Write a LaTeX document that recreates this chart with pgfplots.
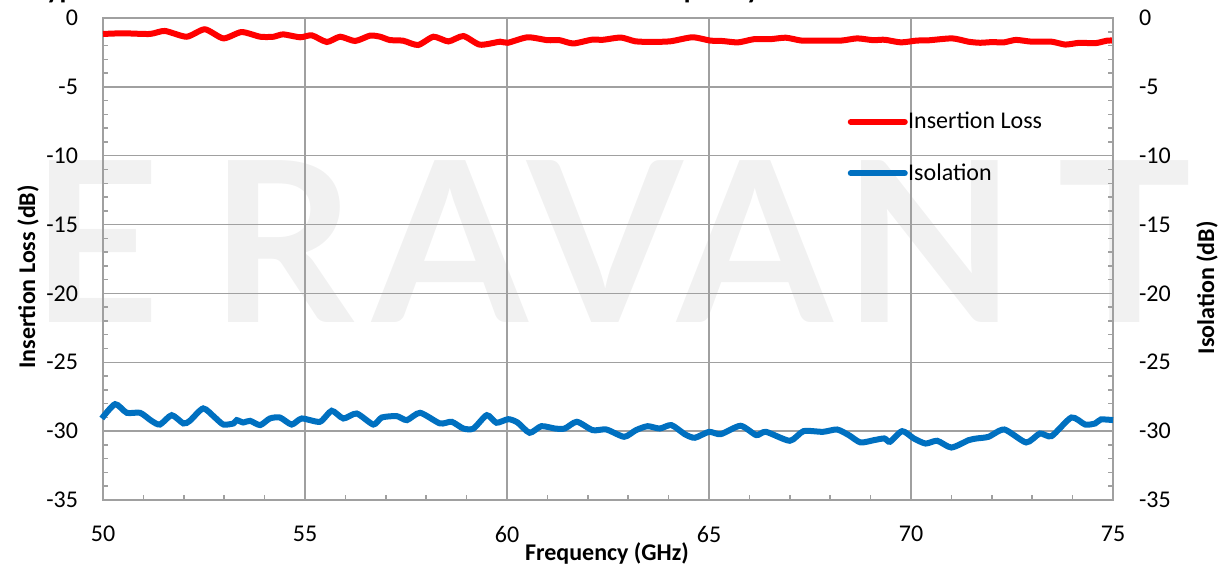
\documentclass[border=0pt]{standalone}
\usepackage{pgfplots}
\pgfplotsset{compat=1.18}
\usepackage{fontspec}
\setmainfont{Carlito}
\newfontfamily\markfont{Lato}

\definecolor{ilred}{RGB}{255,0,0}
\definecolor{isoblue}{RGB}{0,112,192}
\definecolor{gridgray}{RGB}{160,160,160}
\definecolor{wmgray}{RGB}{241,241,241}

\pgfplotsset{
  swbase/.style={
    at={(0,0)}, anchor=south west, scale only axis,
    width=505pt, height=241pt,
    xmin=50, xmax=75, ymin=-35, ymax=0,
    ytick={-35,-30,...,0}, minor ytick={-34,...,-1},
    tick align=inside, major tick length=0pt, minor tick length=2.5pt,
    minor tick style={gridgray, line width=0.75pt},
    axis line style={gridgray, line width=1pt},
    /pgf/number format/assume math mode=true,
    tick label style={font=\fontsize{12}{12}\selectfont},
    clip=false,
  },
}

\begin{document}
\begin{tikzpicture}[x=1pt,y=1pt]
% company mark behind the plot
\begin{scope}[every node/.style={text=wmgray, inner sep=0pt,
    font=\markfont\bfseries\fontsize{112}{112}\selectfont}]
  \node at (-3.5,129) {E};
  \node at (90,129) {R};
  \node at (173.5,129) {A};
  \node at (251,129) {V};
  \node at (326,129) {A};
  \node at (413.5,129) {N};
  \node at (511,129) {T};
\end{scope}

\begin{axis}[swbase,
  xtick={50,55,...,75}, minor xtick={51,...,74},
  xtick pos=left, ytick pos=left,
  grid=major, major grid style={gridgray, line width=0.75pt},
  xticklabel style={yshift=-9.5pt},
  yticklabel style={xshift=-9pt},
  xlabel={Frequency (GHz)},
  ylabel={Insertion Loss (dB)},
  every axis x label/.style={at={(axis description cs:0.499,-0.11)}, anchor=center,
    font=\bfseries\fontsize{12}{12}\selectfont},
  every axis y label/.style={at={(axis description cs:-0.0743,0.463)}, rotate=90, anchor=center,
    font=\bfseries\fontsize{12}{12}\selectfont},
  legend style={at={(axis description cs:0.737,0.731)}, anchor=west,
    draw=none, fill=none, inner sep=0pt, row sep=15.5pt,
    font=\fontsize{12}{12}\selectfont,
    nodes={inner sep=0.2pt}},
  legend cell align=left,
  legend image code/.code={\draw[#1, line cap=round] (0pt,0pt) -- (27pt,0pt);},
]
\addplot[ilred, line width=3pt, smooth, tension=0.4] coordinates {
(50.0,-1.16)(50.5,-1.11)(51.16,-1.16)(51.53,-0.94)(52.07,-1.36)(52.52,-0.82)
(52.98,-1.48)(53.43,-1.02)(53.89,-1.36)(54.22,-1.36)(54.46,-1.19)(54.88,-1.40)
(55.17,-1.26)(55.54,-1.74)(55.87,-1.36)(56.24,-1.67)(56.61,-1.28)(56.86,-1.36)
(57.10,-1.60)(57.43,-1.65)(57.80,-1.96)(58.18,-1.36)(58.55,-1.70)(58.92,-1.31)
(59.33,-1.94)(59.83,-1.72)(60.02,-1.80)(60.51,-1.40)(61.0,-1.61)(61.30,-1.61)
(61.64,-1.85)(62.09,-1.58)(62.38,-1.58)(62.82,-1.42)(63.17,-1.69)(63.56,-1.74)
(64.05,-1.69)(64.59,-1.40)(65.03,-1.64)(65.33,-1.67)(65.72,-1.77)(66.11,-1.54)
(66.51,-1.54)(66.90,-1.43)(67.29,-1.64)(67.69,-1.64)(68.27,-1.64)(68.67,-1.48)
(69.06,-1.61)(69.35,-1.58)(69.75,-1.77)(70.14,-1.64)(70.44,-1.62)(71.02,-1.48)
(71.42,-1.72)(71.71,-1.80)(72.01,-1.75)(72.30,-1.77)(72.60,-1.59)(72.99,-1.72)
(73.48,-1.72)(73.82,-1.93)(74.17,-1.80)(74.56,-1.83)(74.86,-1.64)(75.0,-1.64)
};
\addlegendentry{Insertion Loss}
\addlegendimage{isoblue, line width=3pt}
\addlegendentry{Isolation}
\end{axis}

\begin{axis}[swbase,
  axis x line=none, axis y line*=right,
  yticklabel style={xshift=9.5pt},
  ylabel={Isolation (dB)},
  every axis y label/.style={at={(axis description cs:1.093,0.44)}, rotate=90, anchor=center,
    font=\bfseries\fontsize{12}{12}\selectfont},
]
\addplot[isoblue, line width=3pt, smooth, tension=0.4] coordinates {
(49.97,-29.08)(50.30,-28.04)(50.59,-28.67)(50.92,-28.67)(51.20,-29.25)(51.41,-29.52)
(51.70,-28.84)(51.99,-29.44)(52.15,-29.25)(52.48,-28.35)(52.77,-29.01)(52.98,-29.52)
(53.23,-29.44)(53.31,-29.20)(53.47,-29.37)(53.64,-29.25)(53.89,-29.56)(54.13,-29.08)
(54.38,-29.01)(54.67,-29.52)(54.92,-29.08)(55.37,-29.32)(55.66,-28.52)(55.95,-29.08)
(56.28,-28.72)(56.69,-29.52)(56.90,-29.01)(57.27,-28.91)(57.52,-29.20)(57.85,-28.67)
(58.34,-29.44)(58.63,-29.32)(58.92,-29.81)(59.17,-29.81)(59.50,-28.84)(59.74,-29.39)
(60.03,-29.13)(60.26,-29.37)(60.56,-30.12)(60.85,-29.64)(61.19,-29.81)(61.43,-29.81)
(61.73,-29.32)(62.12,-29.93)(62.46,-29.88)(62.90,-30.41)(63.19,-29.93)(63.48,-29.64)
(63.78,-29.81)(64.07,-29.56)(64.41,-30.24)(64.65,-30.48)(65.00,-30.05)(65.29,-30.22)
(65.78,-29.61)(66.17,-30.29)(66.41,-30.05)(67.00,-30.70)(67.34,-30.00)(67.82,-30.05)
(68.17,-29.88)(68.46,-30.29)(68.75,-30.82)(69.09,-30.65)(69.34,-30.53)(69.48,-30.77)
(69.78,-30.00)(70.07,-30.53)(70.36,-30.90)(70.65,-30.70)(71.00,-31.19)(71.43,-30.65)
(71.63,-30.53)(71.92,-30.41)(72.31,-29.88)(72.85,-30.82)(73.19,-30.17)(73.48,-30.36)
(73.97,-29.01)(74.31,-29.52)(74.56,-29.44)(74.70,-29.15)(75.0,-29.20)
};
\end{axis}

% chart heading, only its lowest strokes fall inside the page
\node[anchor=base west, inner sep=0pt, font=\bfseries\fontsize{14}{14}\selectfont]
  at (-35,250.5) {Typical Insertion Loss and Isolation Performance vs. Frequency};

\pgfresetboundingbox
\useasboundingbox (-51.5,-34) rectangle (558.5,250);
\end{tikzpicture}
\end{document}
